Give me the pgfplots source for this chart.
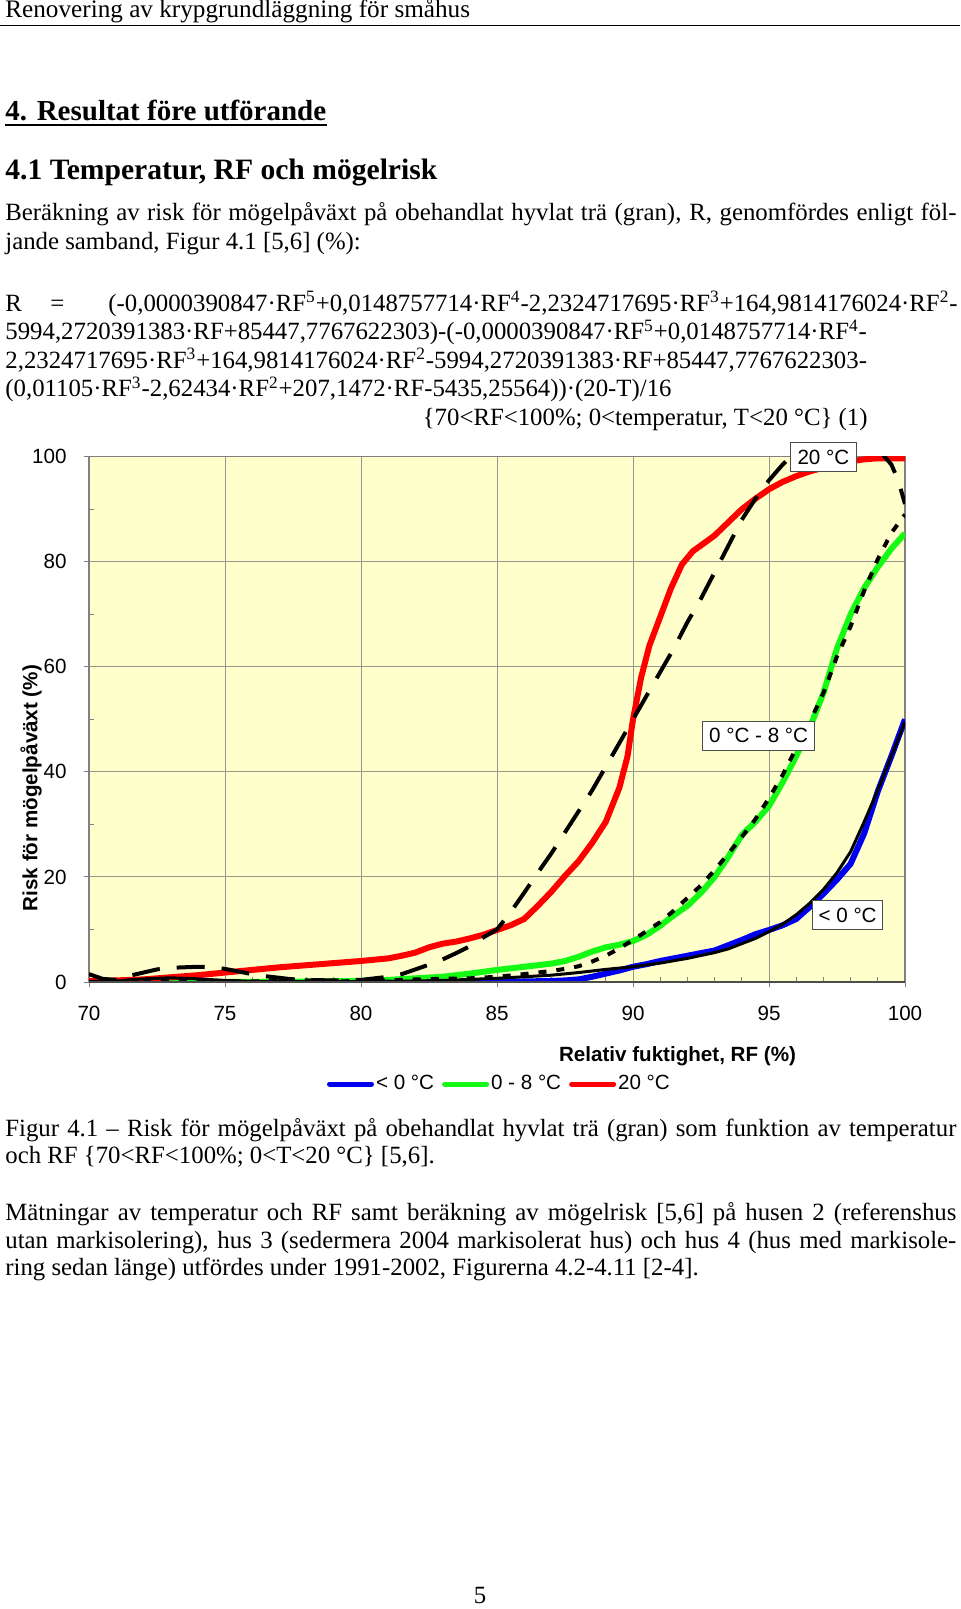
\documentclass[border=0pt]{standalone}
\usepackage{fontspec}
\setmainfont{Liberation Serif}
\newfontfamily\chartfont{Liberation Sans}
\usepackage{pgfplots}
\pgfplotsset{compat=1.18}
\definecolor{bgyellow}{RGB}{255,255,204}
\definecolor{gridc}{RGB}{150,150,140}
\definecolor{cblue}{RGB}{0,0,240}
\definecolor{cgreen}{RGB}{20,250,20}
\definecolor{cred}{RGB}{255,0,0}
\newcommand\bodyfont{\fontsize{12.4}{14.9}\selectfont}
\newcommand\cfont{\chartfont\fontsize{10.3}{12.4}\selectfont}
\begin{document}
\begin{tikzpicture}
\begin{scope}[x=0.5pt,y=-0.5pt]
\path[use as bounding box] (0,0) rectangle (960,1609);
\node[anchor=base west, inner sep=0pt, font=\fontsize{12.6}{15}\selectfont] at (5,18) {Renovering av krypgrundläggning för småhus};
\draw[line width=0.85pt] (0,25.5) -- (960,25.5);
\node[anchor=base west, inner sep=0pt, font=\bfseries\fontsize{14.5}{18}\selectfont] (h1) at (5,120.5) {4. Resultat före utförande};
\draw[line width=1pt] ([yshift=-2.4pt]h1.base west) -- ([yshift=-2.4pt]h1.base east);
\node[anchor=base west, inner sep=0pt, font=\bfseries\fontsize{14.8}{18}\selectfont] at (5,180) {4.1 Temperatur, RF och mögelrisk};
\node[anchor=base west, inner sep=0pt, font=\bodyfont] at (5,220.5) {\makebox[475.5pt][s]{Beräkning av risk för mögelpåväxt på obehandlat hyvlat trä (gran), R, genomfördes enligt föl-}};
\node[anchor=base west, inner sep=0pt, font=\bodyfont] at (5,250) {jande samband, Figur 4.1 [5,6] (\%):};
\node[anchor=base west, inner sep=0pt, font=\bodyfont] at (5,311.5) {R};
\node[anchor=base west, inner sep=0pt, font=\bodyfont] at (50,311.5) {=};
\node[anchor=base west, inner sep=0pt, font=\bodyfont] at (108,311.5) {(-0,0000390847·RF\textsuperscript{5}+0,0148757714·RF\textsuperscript{4}-2,2324717695·RF\textsuperscript{3}+164,9814176024·RF\textsuperscript{2}-};
\node[anchor=base west, inner sep=0pt, font=\bodyfont] at (5,340) {5994,2720391383·RF+85447,7767622303)-(-0,0000390847·RF\textsuperscript{5}+0,0148757714·RF\textsuperscript{4}-};
\node[anchor=base west, inner sep=0pt, font=\bodyfont] at (5,368.5) {2,2324717695·RF\textsuperscript{3}+164,9814176024·RF\textsuperscript{2}-5994,2720391383·RF+85447,7767622303-};
\node[anchor=base west, inner sep=0pt, font=\bodyfont] at (5,397) {(0,01105·RF\textsuperscript{3}-2,62434·RF\textsuperscript{2}+207,1472·RF-5435,25564))·(20-T)/16};
\node[anchor=base east, inner sep=0pt, font=\bodyfont] at (868,425.5) {\{70<RF<100\%; 0<temperatur, T<20 °C\} (1)};
\node[anchor=base west, inner sep=0pt, font=\bodyfont] at (5,1136.5) {\makebox[475.5pt][s]{Figur 4.1 – Risk för mögelpåväxt på obehandlat hyvlat trä (gran) som funktion av temperatur}};
\node[anchor=base west, inner sep=0pt, font=\bodyfont] at (5,1163) {och RF \{70<RF<100\%; 0<T<20 °C\} [5,6].};
\node[anchor=base west, inner sep=0pt, font=\bodyfont] at (5,1220) {\makebox[475.5pt][s]{Mätningar av temperatur och RF samt beräkning av mögelrisk [5,6] på husen 2 (referenshus}};
\node[anchor=base west, inner sep=0pt, font=\bodyfont] at (5,1248) {\makebox[475.5pt][s]{utan markisolering), hus 3 (sedermera 2004 markisolerat hus) och hus 4 (hus med markisole-}};
\node[anchor=base west, inner sep=0pt, font=\bodyfont] at (5,1275.5) {ring sedan länge) utfördes under 1991-2002, Figurerna 4.2-4.11 [2-4].};
\node[anchor=base, inner sep=0pt, font=\bodyfont] at (480,1603) {5};
\end{scope}
\begin{axis}[
  at={(44.5pt,-491pt)}, anchor=south west,
  scale only axis, width=408pt, height=262.65pt,
  xmin=70, xmax=100, ymin=0, ymax=100,
  xtick={70,75,...,100}, ytick={0,20,...,100},
  minor x tick num=4, minor y tick num=1,
  tick pos=left, tick align=outside,
  major tick length=2.5pt, minor tick length=-2.5pt,
  tick style={draw=gray, line width=0.5pt},
  grid=major, major grid style={draw=gridc, line width=0.5pt},
  axis line style={draw=gray, line width=0.6pt},
  axis background/.style={fill=bgyellow},
  clip mode=individual,
  /pgf/number format/assume math mode=true,
  ticklabel style={font=\cfont},
  yticklabel style={anchor=east, inner sep=0pt, xshift=-8.5pt},
  xticklabel style={anchor=base, inner sep=0pt, yshift=-16.9pt},
  legend columns=3,
  legend style={at={(0.503,-0.1942)}, anchor=center, draw=none, fill=none,
    font=\cfont, inner sep=0pt, nodes={inner sep=1pt},
    /tikz/every even column/.append style={column sep=3pt}},
  legend image code/.code={\draw[#1, line width=2.5pt, line cap=round] (0pt,0pt) -- (21pt,0pt);},
]
\addplot[cblue, line width=3pt, line join=round] coordinates {
(70,0)(75,0)(80,0)(84,0)(85,0.05)(86,0.1)(87,0.2)(87.5,0.3)(88,0.5)(88.5,1.0)(89,1.6)(89.5,2.2)(90,2.9)(90.5,3.4)(91,4.0)(91.5,4.5)(92,5.0)(92.5,5.5)(93,6.0)(93.5,7.0)(94,8.0)(94.5,9.1)(95,9.9)(95.5,10.8)(96,12.0)(96.5,14.3)(97,16.8)(97.5,19.5)(98,22.5)(98.5,28.3)(99,36.3)(99.5,43.0)(100,50.0)};
\addlegendentry{< 0 °C}
\addplot[cgreen, line width=3pt, line join=round] coordinates {
(70,0)(75,0)(78,0.1)(80,0.2)(81,0.4)(82,0.7)(83,1.0)(84,1.6)(85,2.3)(86,2.9)(87,3.5)(87.5,4.0)(88,4.8)(88.5,5.8)(89,6.6)(89.5,7.1)(90,7.8)(90.5,9.0)(91,10.7)(91.5,12.7)(92,14.5)(92.5,17.0)(93,20.0)(93.5,23.8)(94,28.0)(94.5,30.5)(95,33.5)(95.5,38.0)(96,43.0)(96.5,48.4)(97,55.0)(97.5,63.5)(98,70.0)(98.5,75.0)(99,79.0)(99.5,82.5)(100,85.4)};
\addlegendentry{0 - 8 °C}
\addplot[cred, line width=3pt, line join=round] coordinates {
(70,0.2)(71,0.3)(72,0.5)(73,0.9)(74,1.3)(75,1.8)(76,2.3)(77,2.8)(78,3.2)(79,3.6)(80,4.0)(81,4.5)(81.5,5.0)(82,5.6)(82.5,6.6)(83,7.3)(83.5,7.7)(84,8.3)(84.5,9.0)(85,9.9)(85.5,10.8)(86,12.0)(86.5,14.5)(87,17.2)(87.5,20.2)(88,23.0)(88.5,26.5)(89,30.5)(89.5,37)(89.8,43)(90,50)(90.3,58)(90.6,64)(91,69.5)(91.4,75)(91.8,79.5)(92.2,82)(92.6,83.5)(93,85)(93.5,87.5)(94,90)(94.5,92)(95,93.8)(95.5,95.2)(96,96.3)(96.5,97.2)(97,97.9)(97.5,98.5)(98,99.1)(98.5,99.5)(99,99.7)(100,99.7)};
\addlegendentry{20 °C}
\addplot[black, line width=1.5pt, line join=round, forget plot] coordinates {
(70,0)(71,0.2)(72,0.6)(73,0.8)(74,0.6)(75,0.3)(76,0.1)(77,0.05)(78,0.05)(80,0.1)(82,0.2)(83,0.3)(84,0.5)(85,0.7)(86,1.0)(87,1.3)(88,1.8)(89,2.4)(90,2.9)(91,3.6)(92,4.5)(93,5.6)(93.5,6.3)(94,7.3)(94.5,8.3)(95,9.6)(95.5,11.0)(96,12.8)(96.5,15.0)(97,17.6)(97.5,20.8)(98,24.8)(98.5,30.5)(99,36.5)(99.5,43.0)(100,49.5)};
\addplot[black, line width=2pt, dash pattern=on 4pt off 5pt, forget plot] coordinates {
(70,0)(71,0.2)(72,0.3)(73,0.3)(74,0.2)(75,0.1)(76,0.1)(76.5,0.2)(77,0.5)(77.5,0.5)(78,0.3)(79,0.1)(80,0.2)(81,0.3)(82,0.5)(83,0.6)(84,0.7)(85,1.0)(86,1.5)(87,2.1)(87.5,2.5)(88,3.0)(88.5,3.9)(89,5.0)(89.5,6.4)(90,8.0)(90.5,9.7)(91,11.4)(91.5,13.6)(92,16.0)(92.5,18.4)(93,21.3)(93.5,24.4)(94,27.6)(94.5,31.0)(95,35.0)(95.5,39.4)(96,44.5)(96.5,49.5)(97,55.0)(97.5,62)(98,67.7)(98.5,74.5)(99,80.5)(99.5,85.5)(100,89)};
\addplot[black, line width=2pt, dash pattern=on 14pt off 8.5pt, forget plot] coordinates {
(70,1.5)(70.5,0.6)(71,0.4)(71.5,1.2)(72,1.8)(72.5,2.4)(73,2.7)(73.5,2.8)(74,2.9)(74.5,2.8)(75,2.5)(75.5,2.0)(76,1.5)(76.5,1.1)(77,0.8)(77.5,0.5)(78,0.4)(79,0.3)(80,0.4)(80.5,0.7)(81,1.0)(81.5,1.5)(82,2.4)(82.5,3.3)(83,4.3)(83.5,5.5)(84,6.8)(84.5,8.5)(85,10.0)(85.5,13.3)(86,17)(86.5,20.8)(87,24.5)(87.5,28.5)(88,32.5)(88.5,36.5)(89,41)(89.5,45.5)(90,50)(90.5,54.5)(91,59)(91.5,63.5)(92,68.5)(92.5,73)(93,78)(93.5,83)(94,88)(94.5,92)(95,95.5)(95.5,98.5)(96,101)(97,104)(98,104.5)(98.5,103.5)(99,101.5)(99.5,98.5)(99.75,95.5)(100,91)};
\draw[line width=1pt, draw=gray!60!black] (rel axis cs:0,0) -- (rel axis cs:1,0);
\node[draw=black!70, line width=0.5pt, fill=white, font=\cfont, inner xsep=3.5pt, inner ysep=0pt, minimum height=14.5pt] at (axis cs:97,99.9) {20 °C};
\node[draw=black!70, line width=0.5pt, fill=white, font=\cfont, inner xsep=3.3pt, inner ysep=0pt, minimum height=14.5pt] at (axis cs:94.62,46.9) {0 °C - 8 °C};
\node[draw=black!70, line width=0.5pt, fill=white, font=\cfont, inner xsep=3pt, inner ysep=0pt, minimum height=14.5pt] at (axis cs:97.89,12.75) {< 0 °C};
\node[rotate=90, anchor=center, inner sep=0pt, font=\chartfont\bfseries\fontsize{10.3}{12.4}\selectfont] at (rel axis cs:-0.0711,0.3693) {Risk för mögelpåväxt (\%)};
\node[anchor=base, inner sep=0pt, font=\chartfont\bfseries\fontsize{10.3}{12.4}\selectfont] at (rel axis cs:0.7212,-0.1518) {Relativ fuktighet, RF (\%)};
\end{axis}
\end{tikzpicture}
\end{document}
